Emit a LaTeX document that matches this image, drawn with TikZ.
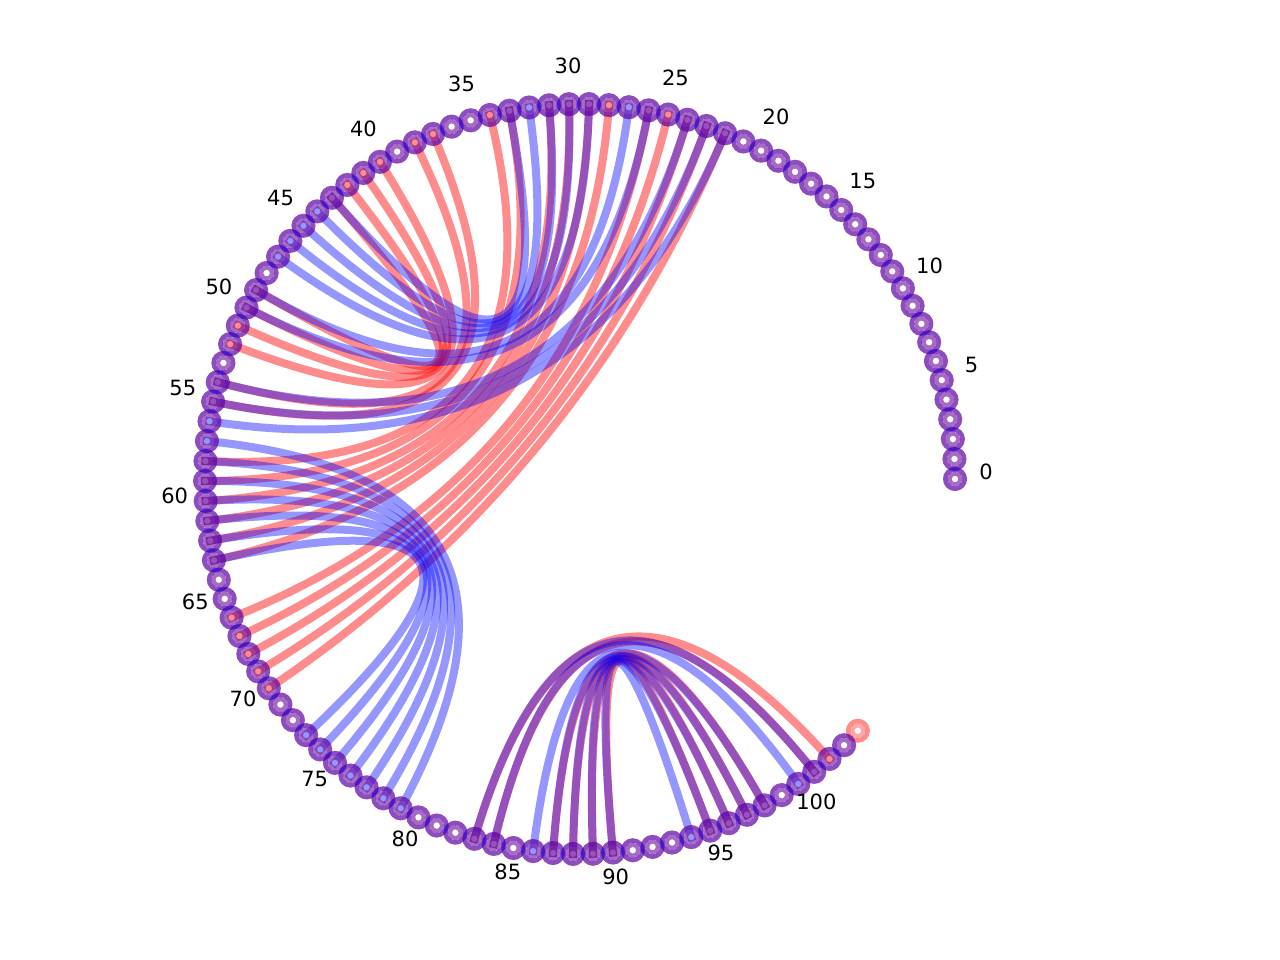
\documentclass[tikz,border=0pt]{standalone}
\usepackage{fontspec}
\setmainfont{DejaVu Sans}
\usetikzlibrary{calc}
\definecolor{PairRed}{HTML}{FF0000}
\definecolor{PairBlue}{HTML}{0000FF}
\tikzset{
  redarc/.style={line width=8pt, draw=PairRed, draw opacity=0.45, line cap=rect},
  bluearc/.style={line width=8pt, draw=PairBlue, draw opacity=0.41, line cap=rect},
  ringout/.style={line width=4.5pt, draw opacity=0.45},
  ringin/.style={line width=4pt, draw opacity=0.35},
  idx/.style={font=\fontsize{21}{25}\selectfont, inner sep=0pt},
}
% quadratic chord through the centre (O)
\newcommand{\pairarc}[3]{\draw[#1] (n#2) .. controls ($(n#2)!0.6667!(O)$) and ($(n#3)!0.6667!(O)$) .. (n#3);}

\begin{document}
\begin{tikzpicture}[x=1pt, y=-1pt]
\useasboundingbox (0,0) rectangle (1280,960);
\def\R{375}
\def\dA{3.056}
\coordinate (O) at (580,479);
\foreach \i in {0,...,104} {
  \coordinate (n\i) at ({580+\R*cos(\i*\dA)}, {479-\R*sin(\i*\dA)});
}
% ---------------------------------------------------------------- red structure
\foreach \i/\j in {43/49,42/50,41/51,40/52,38/54,37/55,
                   34/58,33/59,31/60,30/61,29/62,28/63,26/66,25/67,24/68,23/69,22/70,
                   90/95,89/96,88/97,87/98,84/101,83/102} {
  \pairarc{redarc}{\i}{\j}
}
% ---------------------------------------------------------------- blue structure
\foreach \i/\j in {33/43,32/44,31/45,30/46,29/47,
                   27/49,26/50,24/54,23/55,22/56,
                   63/73,62/74,61/75,60/76,59/77,58/78,57/79,
                   90/94,89/95,88/96,87/97,86/98,84/100,83/101} {
  \pairarc{bluearc}{\i}{\j}
}
% ---------------------------------------------------------------- bases
\foreach \i in {0,...,104} {
  \draw[ringout, PairRed] (n\i) circle (9.75);
  \draw[ringin, PairRed] (n\i) circle (5.5);
}
\foreach \i in {0,...,103} {
  \draw[ringout, PairBlue] (n\i) circle (9.75);
  \draw[ringin, PairBlue] (n\i) circle (5.5);
}
% index labels
\foreach \i in {0,5,...,100} {
  \node[idx] (l\i) at ({580+406*cos(\i*\dA)}, {472-406*sin(\i*\dA)}) {\i};
}
\end{tikzpicture}
\end{document}
